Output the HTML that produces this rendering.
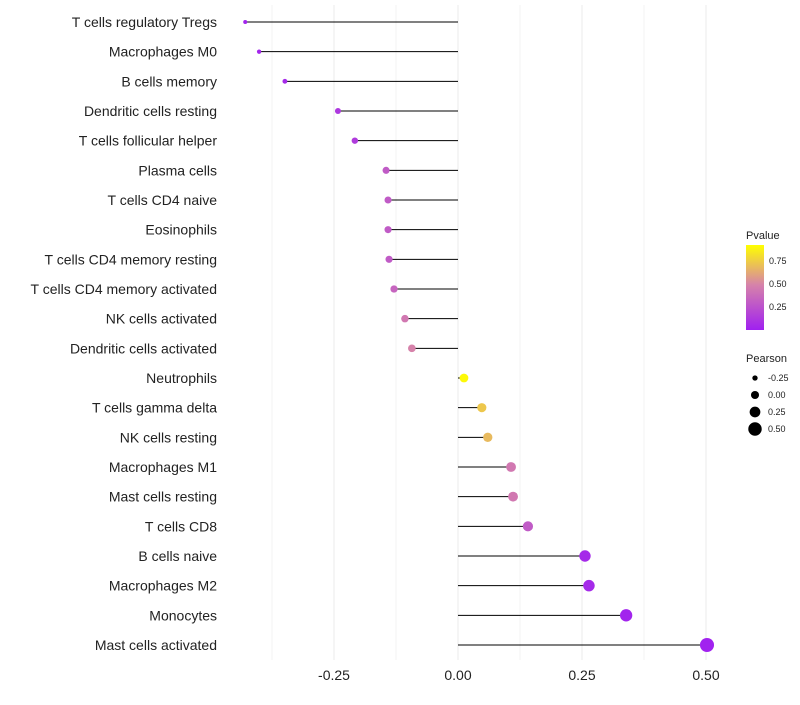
<!DOCTYPE html>
<html><head><meta charset="utf-8"><style>
body{margin:0;background:#fff;font-family:"Liberation Sans",sans-serif;}
</style></head><body>
<svg id="chart" width="800" height="700" xmlns="http://www.w3.org/2000/svg"></svg>
<script>
const categories=["T cells regulatory  Tregs","Macrophages M0","B cells memory","Dendritic cells resting","T cells follicular helper","Plasma cells","T cells CD4 naive","Eosinophils","T cells CD4 memory resting","T cells CD4 memory activated","NK cells activated","Dendritic cells activated","Neutrophils","T cells gamma delta","NK cells resting","Macrophages M1","Mast cells resting","T cells CD8","B cells naive","Macrophages M2","Monocytes","Mast cells activated"];
const pearson=[-0.429,-0.401,-0.349,-0.242,-0.208,-0.145,-0.141,-0.141,-0.139,-0.129,-0.107,-0.093,0.012,0.048,0.060,0.107,0.111,0.141,0.256,0.264,0.339,0.502];
const pvalues=[0.02,0.03,0.05,0.12,0.14,0.3,0.3,0.3,0.3,0.35,0.45,0.5,0.93,0.75,0.7,0.45,0.45,0.3,0.05,0.05,0.02,0.01];
const xTicks=[-0.25,0,0.25,0.5];
const xTickLabels=["-0.25","0.00","0.25","0.50"];
const legP=[0.75,0.5,0.25];
const legR=[-0.25,0,0.25,0.5];
const NS="http://www.w3.org/2000/svg";
const svg=document.getElementById('chart');
const xs=v=>458+v*496;
const ys=i=>22+i*(623/21);
const rs=v=>2+(v+0.43)*5.4;
function col(p){
 const stops=[[0,[160,32,240]],[0.5,[214,130,170]],[0.95,[255,255,0]]];
 p=Math.max(0,Math.min(0.95,p));
 for(let k=0;k<stops.length-1;k++){const a=stops[k],b=stops[k+1];if(p<=b[0]){const t=(p-a[0])/(b[0]-a[0]);return 'rgb('+a[1].map((c,j)=>Math.round(c+(b[1][j]-c)*t)).join(',')+')';}}
}
function mk(t,at){const e=document.createElementNS(NS,t);for(const k in at)e.setAttribute(k,at[k]);svg.appendChild(e);return e;}
// grid
for(let g=-0.375;g<=0.51;g+=0.125){const l=mk('line',{x1:xs(g),x2:xs(g),y1:5,y2:660,stroke:'#ebebeb','stroke-width':Math.abs((g*8)%2)<0.01?1:0.6});

}
xTicks.forEach((t,i)=>{const tx=mk('text',{x:xs(t),y:680,'text-anchor':'middle','font-size':14,fill:'#222'});tx.textContent=xTickLabels[i];

});
categories.forEach((c,i)=>{
 const y=ys(i);
 const lab=mk('text',{x:217,y:y+5,'text-anchor':'end','font-size':14,fill:'#222'});lab.textContent=c;
 
 
 const ln=mk('line',{x1:xs(0),x2:xs(pearson[i]),y1:y,y2:y,stroke:'#000','stroke-width':1});
 
 
 const pt=mk('circle',{cx:xs(pearson[i]),cy:y,r:rs(pearson[i]),fill:col(pvalues[i])});
 
 
});
// legend
const defs=mk('defs',{});
defs.innerHTML='<linearGradient id="pg" x1="0" y1="1" x2="0" y2="0"><stop offset="0" stop-color="rgb(160,32,240)"/><stop offset="0.53" stop-color="rgb(214,130,170)"/><stop offset="1" stop-color="rgb(255,255,0)"/></linearGradient>';
const lt=mk('text',{x:746,y:239,'font-size':11,fill:'#222'});lt.textContent='Pvalue';


const bar=mk('rect',{x:746,y:245,width:18,height:85,fill:'url(#pg)'});


legP.forEach(p=>{const y=330-p*92;const t=mk('text',{x:769,y:y+3,'font-size':9,fill:'#222'});t.textContent=p.toFixed(2);

});
const pt2=mk('text',{x:746,y:362,'font-size':11,fill:'#222'});pt2.textContent='Pearson';


legR.forEach((r,i)=>{const y=378+i*17;const c=mk('circle',{cx:755,cy:y,r:rs(r)-0.3,fill:'#000'});


const t=mk('text',{x:768,y:y+3,'font-size':9,fill:'#222'});t.textContent=r.toFixed(2);

});
</script>
</body></html>
